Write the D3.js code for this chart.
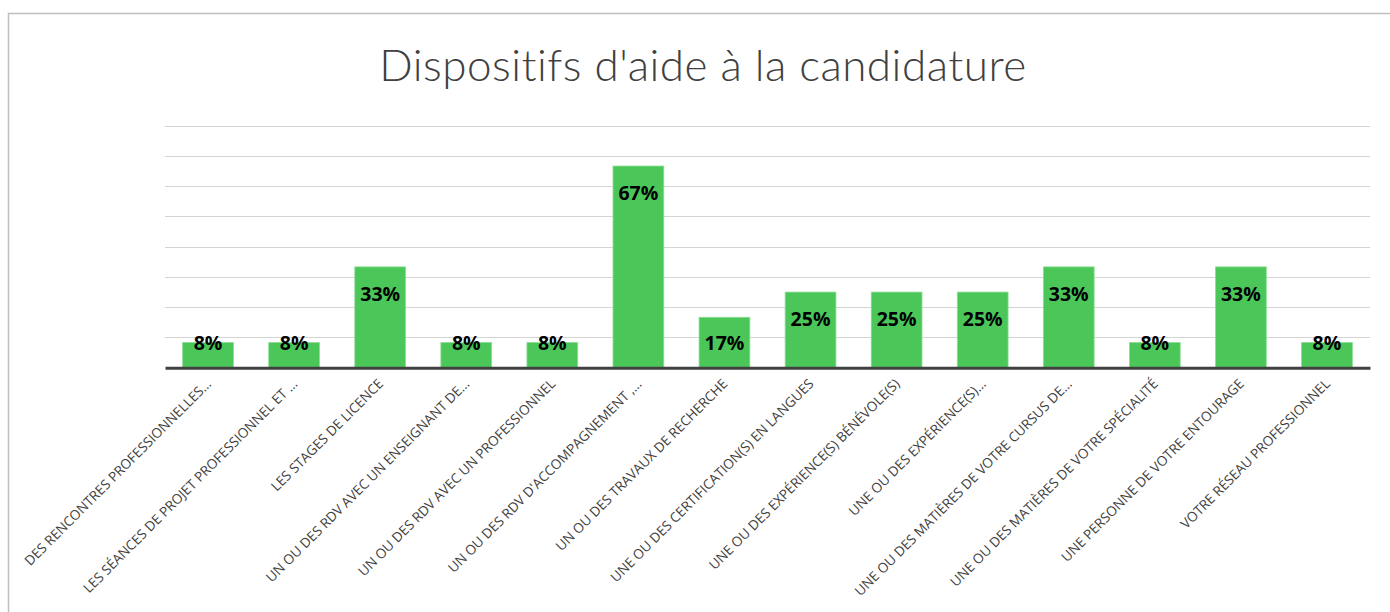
<!DOCTYPE html>
<html>
<head>
<meta charset="utf-8">
<script src="https://cdn.jsdelivr.net/npm/d3@7"></script>
<style>
  body { margin: 0; background: #fff; }
  svg { display: block; }
</style>
</head>
<body>
<svg id="chart" width="1390" height="612"></svg>
<script>
// données du graphique
const categories = [
  "DES RENCONTRES PROFESSIONNELLES…",
  "LES SÉANCES DE PROJET PROFESSIONNEL ET …",
  "LES STAGES DE LICENCE",
  "UN OU DES RDV AVEC UN ENSEIGNANT DE…",
  "UN OU DES RDV AVEC UN PROFESSIONNEL",
  "UN OU DES RDV D'ACCOMPAGNEMENT ,…",
  "UN OU DES TRAVAUX DE RECHERCHE",
  "UNE OU DES CERTIFICATION(S) EN LANGUES",
  "UNE OU DES EXPÉRIENCE(S) BÉNÉVOLE(S)",
  "UNE OU DES EXPÉRIENCE(S)…",
  "UNE OU DES MATIÈRES DE VOTRE CURSUS DE…",
  "UNE OU DES MATIÈRES DE VOTRE SPÉCIALITÉ",
  "UNE PERSONNE DE VOTRE ENTOURAGE",
  "VOTRE RÉSEAU PROFESSIONNEL"
];
const values = [8.33, 8.33, 33.33, 8.33, 8.33, 66.67, 16.67, 25, 25, 25, 33.33, 8.33, 33.33, 8.33];
const gridTicks = [10, 20, 30, 40, 50, 60, 70, 80];
const title = "Dispositifs d'aide à la candidature";

const svg = d3.select("#chart");
const plotLeft = 165, plotRight = 1370, plotTop = 125.7, plotBottom = 367.7;

// cadre du graphique
svg.append("rect")
  .attr("x", 8.5).attr("y", 13.5)
  .attr("width", 1420).attr("height", 700)
  .attr("fill", "none").attr("stroke", "#bfbfbf").attr("stroke-width", 1.5);

const x = d3.scaleBand().domain(categories).range([plotLeft, plotRight]).paddingInner(0.41).paddingOuter(0.205);
const y = d3.scaleLinear().domain([0, 80]).range([plotBottom, plotTop]);

// titre
svg.append("text")
  .attr("x", 703).attr("y", 81)
  .attr("text-anchor", "middle")
  .attr("font-family", "Lato, 'Open Sans', sans-serif")
  .attr("font-weight", 300)
  .attr("font-size", 44)
  .attr("letter-spacing", 0.5)
  .attr("fill", "#404040")
  .text(title);

// grille
svg.append("g")
  .selectAll("line")
  .data(gridTicks)
  .join("line")
  .attr("x1", plotLeft).attr("x2", plotRight)
  .attr("y1", d => Math.round(y(d)) + 0.5).attr("y2", d => Math.round(y(d)) + 0.5)
  .attr("stroke", "#d4d4d4").attr("stroke-width", 1);

// barres
svg.append("g")
  .selectAll("rect")
  .data(values)
  .join("rect")
  .attr("x", (d, i) => x(categories[i]))
  .attr("y", d => y(d))
  .attr("width", x.bandwidth())
  .attr("height", d => y(0) - y(d))
  .attr("fill", "#4bc75a")
  .attr("stroke", "#8ddc96").attr("stroke-width", 0.8);

// étiquettes de valeur
svg.append("g")
  .selectAll("text")
  .data(values)
  .join("text")
  .attr("x", (d, i) => x(categories[i]) + x.bandwidth() / 2)
  .attr("y", d => Math.min(y(d) + 27, plotBottom - 25) + 7)
  .attr("text-anchor", "middle")
  .attr("font-family", "'Open Sans', sans-serif")
  .attr("font-weight", 700)
  .attr("font-size", 19.5)
  .attr("fill", "#000")
  .text(d => Math.round(d) + "%");

// axe des catégories
const xAxis = svg.append("g")
  .attr("transform", `translate(0,${plotBottom})`)
  .call(d3.axisBottom(x).tickSize(0).tickPadding(0));
xAxis.select(".domain")
  .attr("stroke", "#404040").attr("stroke-width", 3);
xAxis.selectAll(".tick text")
  .attr("font-family", "'Open Sans', sans-serif")
  .attr("font-size", 13.6)
  .attr("fill", "#404040")
  .attr("text-anchor", "end")
  .attr("dy", null)
  .attr("transform", "translate(4,17) rotate(-45)");
</script>
</body>
</html>
